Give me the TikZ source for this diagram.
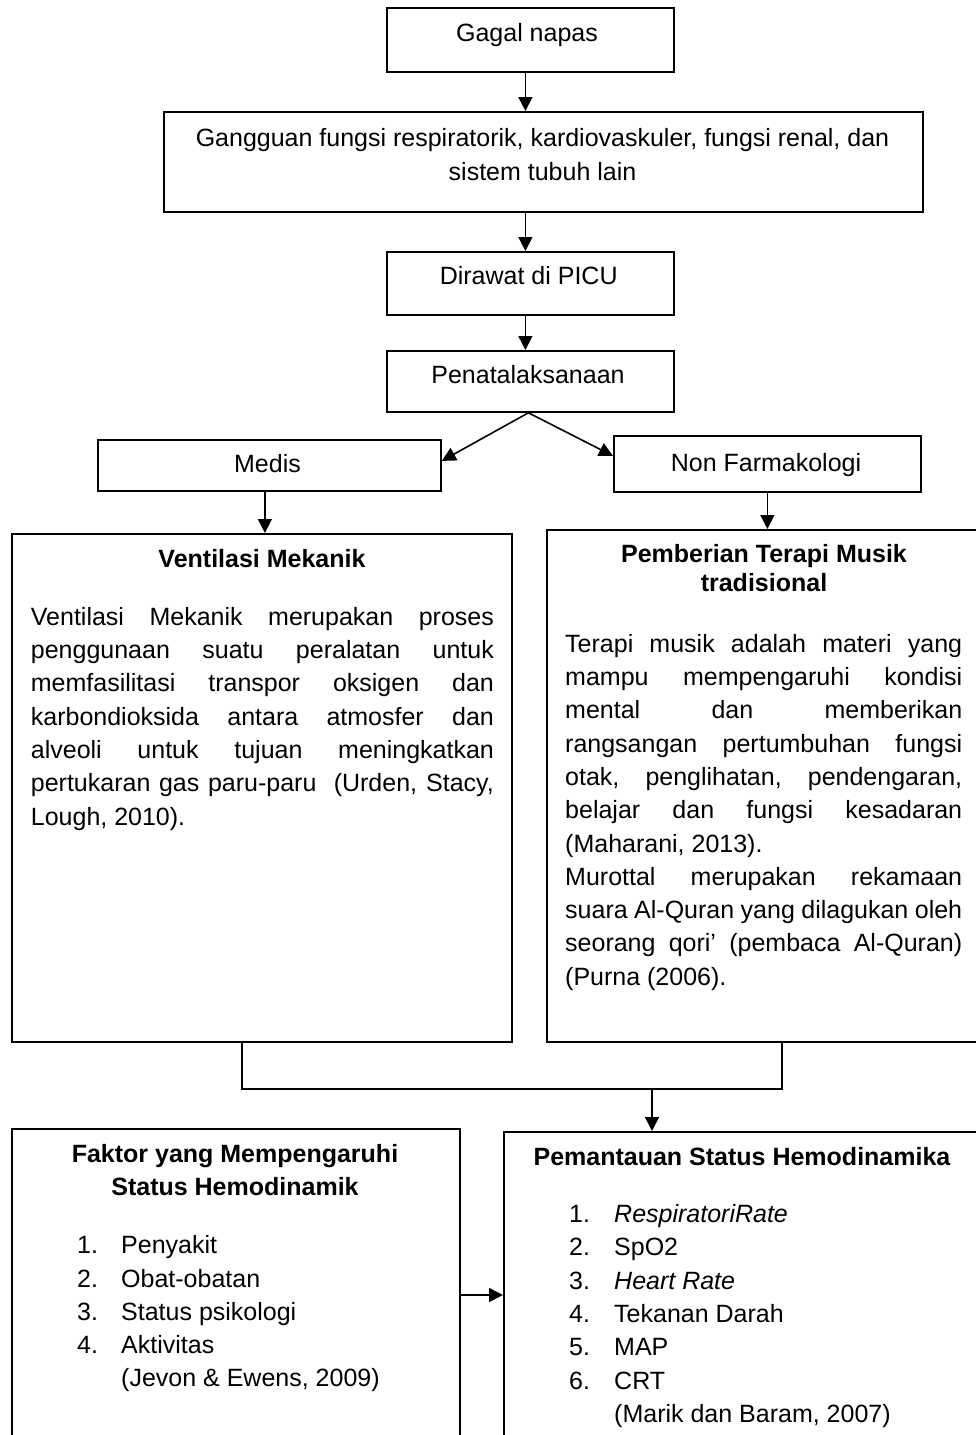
\documentclass[tikz,border=0pt]{standalone}
\usepackage{fontspec}
\setmainfont{Liberation Sans}
\usetikzlibrary{arrows.meta}
\newcommand\bodyfs{\fontsize{25}{33.3}\selectfont}
\newcommand\titlefs{\fontsize{25}{28.5}\selectfont}
\newcommand\titlefsb{\fontsize{25}{32.5}\selectfont}
\begin{document}
\begin{tikzpicture}[x=1pt,y=-1pt,
  box/.style={draw, line width=1.8pt, inner sep=0pt, anchor=north west},
  conn/.style={line width=1.6pt},
  arr/.style={conn, -{Triangle[length=14pt,width=14pt]}},
  txt/.style={inner sep=0pt, font=\bodyfs},
  para/.style={txt, anchor=north west, align=left},
]
\useasboundingbox (0,0) rectangle (976,1435);
\clip (0,0) rectangle (976,1435);

% boxes
\node[box, minimum width=287pt, minimum height=64pt] (gagal) at (386,7) {};
\node[box, minimum width=759pt, minimum height=100pt] (gang) at (163,111) {};
\node[box, minimum width=287pt, minimum height=63pt] (dira) at (386,251) {};
\node[box, minimum width=287pt, minimum height=61pt] (pena) at (386,350) {};
\node[box, minimum width=343pt, minimum height=51pt] (medis) at (97,439) {};
\node[box, minimum width=307pt, minimum height=56pt] (nonf) at (613,435) {};
\node[box, minimum width=500pt, minimum height=508pt] (vent) at (11,533) {};
\node[box, minimum width=435pt, minimum height=512pt] (musik) at (546,529) {};
\node[box, minimum width=448pt, minimum height=400pt] (faktor) at (11,1128) {};
\node[box, minimum width=478pt, minimum height=400pt] (pem) at (503,1131) {};

% texts
\node[txt, anchor=base] (gagalT) at (527,41) {Gagal napas};
\node[txt, anchor=north, align=center] (gangT) at (542.5,123.2)
  {\strut Gangguan fungsi respiratorik, kardiovaskuler, fungsi renal, dan\\ sistem tubuh lain};
\node[txt, anchor=base] (diraT) at (528.7,284) {Dirawat di PICU};
\node[txt, anchor=base] (penaT) at (528,383) {Penatalaksanaan};
\node[txt, anchor=base] (medisT) at (267.5,472) {Medis};
\node[txt, anchor=base] (nonfT) at (766,471) {Non Farmakologi};

\node[txt, anchor=base, font=\bodyfs\bfseries] (ventH) at (262,567) {Ventilasi Mekanik};
\node[para] (ventP) at (30.7,601.7) {\strut\makebox[463pt][s]{Ventilasi Mekanik merupakan proses}\\
\makebox[463pt][s]{penggunaan suatu peralatan untuk}\\
\makebox[463pt][s]{memfasilitasi transpor oksigen dan}\\
\makebox[463pt][s]{karbondioksida antara atmosfer dan}\\
\makebox[463pt][s]{alveoli untuk tujuan meningkatkan}\\
\makebox[463pt][s]{pertukaran gas paru-paru\ \ (Urden, Stacy,}\\
Lough, 2010).};

\node[txt, anchor=north, align=center, font=\titlefs\bfseries] (musikH) at (764,542.55)
  {\strut Pemberian Terapi Musik\\ tradisional};
\node[para] (musikP) at (565,628.7) {\strut\makebox[397pt][s]{Terapi musik adalah materi yang}\\
\makebox[397pt][s]{mampu mempengaruhi kondisi}\\
\makebox[397pt][s]{mental dan memberikan}\\
\makebox[397pt][s]{rangsangan pertumbuhan fungsi}\\
\makebox[397pt][s]{otak, penglihatan, pendengaran,}\\
\makebox[397pt][s]{belajar dan fungsi kesadaran}\\
(Maharani, 2013).\\
\makebox[397pt][s]{Murottal merupakan rekamaan}\\
\makebox[397pt][s]{suara Al-Quran yang dilagukan oleh}\\
\makebox[397pt][s]{seorang qori’ (pembaca Al-Quran)}\\
(Purna (2006).};

\node[txt, anchor=north, align=center, font=\titlefsb\bfseries] (faktorH) at (235,1139.75)
  {\strut Faktor yang Mempengaruhi\\ Status Hemodinamik};
\node[para] (faktorL) at (77,1230.2) {\strut\makebox[44pt][l]{1.}Penyakit\\
\makebox[44pt][l]{2.}Obat-obatan\\
\makebox[44pt][l]{3.}Status psikologi\\
\makebox[44pt][l]{4.}Aktivitas\\
\hspace*{44pt}(Jevon \& Ewens, 2009)};

\node[txt, anchor=base, font=\bodyfs\bfseries] (pemH) at (742,1165) {Pemantauan Status Hemodinamika};
\node[para] (pemL) at (569,1199) {\strut\makebox[45pt][l]{1.}\textit{RespiratoriRate}\\
\makebox[45pt][l]{2.}SpO2\\
\makebox[45pt][l]{3.}\textit{Heart Rate}\\
\makebox[45pt][l]{4.}Tekanan Darah\\
\makebox[45pt][l]{5.}MAP\\
\makebox[45pt][l]{6.}CRT\\
\hspace*{45pt}(Marik dan Baram, 2007)};

% connectors
\draw[arr] ([xshift=-5pt]gagal.south) -- ([xshift=-5pt]gagal.south |- gang.north);
\draw[arr] ([xshift=-18pt]gang.south) -- ([xshift=-18pt]gang.south |- dira.north);
\draw[arr] ([xshift=-5pt]dira.south) -- ([xshift=-5pt]dira.south |- pena.north);
\draw[arr] ([xshift=-2pt]pena.south) -- ([yshift=4.5pt]medis.east);
\draw[arr] ([xshift=-2pt]pena.south) -- ([yshift=8pt]nonf.west);
\draw[arr] ([xshift=-4.5pt]medis.south) -- ([xshift=-4.5pt]medis.south |- vent.north);
\draw[arr] (nonf.south) -- (nonf.south |- musik.north);
\coordinate (j) at (652,1089);
\draw[conn] ([xshift=-20pt]vent.south) |- (j) -| ([xshift=17.5pt]musik.south);
\draw[arr] (j) -- (j |- pem.north);
\draw[arr] ([yshift=-167pt]faktor.north east) -- ([yshift=-167pt]faktor.north east -| pem.west);
\end{tikzpicture}
\end{document}
